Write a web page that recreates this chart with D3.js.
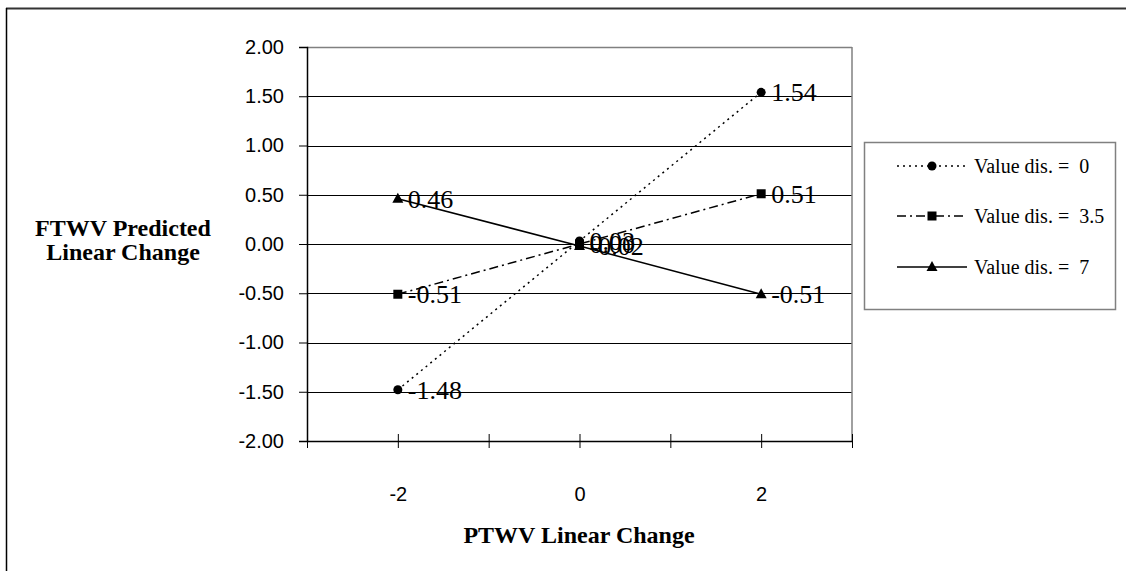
<!DOCTYPE html>
<html>
<head>
<meta charset="utf-8">
<script src="https://cdn.jsdelivr.net/npm/d3@7"></script>
<style>
  html, body { margin: 0; padding: 0; background: #fff; }
  svg { display: block; }
</style>
</head>
<body>
<svg id="chart" width="1126" height="571"></svg>
<script>
// PTWV linear change levels (x) and predicted FTWV change per value-discrepancy group
const xValues = [-2, 0, 2];
const seriesNames = ["Value dis. = 0", "Value dis. = 3.5", "Value dis. = 7"];
const valuesDis0 = [-1.48, 0.03, 1.54];
const valuesDis35 = [-0.51, 0.00, 0.51];
const valuesDis7 = [0.46, -0.02, -0.51];
const yTickValues = [-2, -1.5, -1, -0.5, 0, 0.5, 1, 1.5, 2];
const xTickValues = [-3, -2, -1, 0, 1, 2, 3];
const xTickLabels = ["", "-2", "", "0", "", "2", ""];

const series = [
  { name: seriesNames[0], values: valuesDis0, dash: "2,4", marker: "circle" },
  { name: seriesNames[1], values: valuesDis35, dash: "9,4,2,4", marker: "square" },
  { name: seriesNames[2], values: valuesDis7, dash: null, marker: "triangle" }
];

// two decimals with a plain hyphen for negatives
const fmt2 = v => (v < 0 ? "-" : "") + Math.abs(v).toFixed(2);

const svg = d3.select("#chart");
const plot = { left: 307, right: 852, top: 47, bottom: 441 };

const x = d3.scaleLinear().domain([-3, 3]).range([plot.left, plot.right]);
const y = d3.scaleLinear().domain([-2, 2]).range([plot.bottom, plot.top]);

// outer chart frame (top and left edges visible)
svg.append("line").attr("x1", 6).attr("x2", 1126).attr("y1", 8.5).attr("y2", 8.5)
  .attr("stroke", "#333").attr("stroke-width", 2);
svg.append("line").attr("x1", 6.5).attr("x2", 6.5).attr("y1", 8).attr("y2", 571)
  .attr("stroke", "#000").attr("stroke-width", 1.5);

// horizontal gridlines
svg.append("g").selectAll("line")
  .data(yTickValues.filter(v => v > -2 && v < 2))
  .join("line")
  .attr("x1", plot.left).attr("x2", plot.right)
  .attr("y1", d => Math.round(y(d)) + 0.5).attr("y2", d => Math.round(y(d)) + 0.5)
  .attr("stroke", "#000").attr("stroke-width", 1);

// plot area frame (top and right)
svg.append("line").attr("x1", plot.left).attr("x2", plot.right)
  .attr("y1", plot.top + 0.5).attr("y2", plot.top + 0.5)
  .attr("stroke", "#808080").attr("stroke-width", 1.5);
svg.append("line").attr("x1", plot.right).attr("x2", plot.right)
  .attr("y1", plot.top).attr("y2", plot.bottom)
  .attr("stroke", "#808080").attr("stroke-width", 1.5);

// y axis
const yAxis = d3.axisLeft(y).tickValues(yTickValues).tickFormat(fmt2)
  .tickSize(8).tickPadding(15);
const gy = svg.append("g").attr("transform", `translate(${plot.left},0)`).call(yAxis);
gy.select(".domain").attr("stroke", "#000").attr("stroke-width", 1.5);
gy.selectAll(".tick line").attr("stroke", "#000");
gy.selectAll(".tick text")
  .attr("font-family", "'Liberation Sans', Arial, sans-serif")
  .attr("font-size", 20).attr("fill", "#000");

// x axis (ticks cross the axis line)
const xAxis = d3.axisBottom(x).tickValues(xTickValues)
  .tickFormat((d, i) => xTickLabels[i]).tickSize(0).tickPadding(46);
const gx = svg.append("g").attr("transform", `translate(0,${plot.bottom})`).call(xAxis);
gx.select(".domain").attr("stroke", "#000").attr("stroke-width", 1.5);
gx.selectAll(".tick").append("line")
  .attr("y1", -7).attr("y2", 7).attr("stroke", "#000").attr("stroke-width", 1);
gx.selectAll(".tick text")
  .attr("font-family", "'Liberation Sans', Arial, sans-serif")
  .attr("font-size", 20).attr("fill", "#000");

// axis titles
const titleFont = "'Liberation Serif', 'Times New Roman', serif";
const yTitle = svg.append("text")
  .attr("x", 123).attr("text-anchor", "middle")
  .attr("font-family", titleFont).attr("font-size", 24).attr("font-weight", "bold");
yTitle.append("tspan").attr("x", 123).attr("y", 236).text("FTWV Predicted");
yTitle.append("tspan").attr("x", 123).attr("y", 260).text("Linear Change");
svg.append("text")
  .attr("x", 579).attr("y", 543).attr("text-anchor", "middle")
  .attr("font-family", titleFont).attr("font-size", 24).attr("font-weight", "bold")
  .text("PTWV Linear Change");

// marker drawing
function drawMarker(g, type, cx, cy) {
  if (type === "circle") {
    g.append("circle").attr("cx", cx).attr("cy", cy).attr("r", 4.5).attr("fill", "#000");
  } else if (type === "square") {
    g.append("rect").attr("x", cx - 4.5).attr("y", cy - 4.5)
      .attr("width", 9).attr("height", 9).attr("fill", "#000");
  } else {
    g.append("path")
      .attr("d", `M${cx},${cy - 6}L${cx + 5.5},${cy + 4}L${cx - 5.5},${cy + 4}Z`)
      .attr("fill", "#000");
  }
}

const line = d3.line().x(d => x(d[0])).y(d => y(d[1]));

series.forEach(s => {
  const pts = xValues.map((xv, i) => [xv, s.values[i]]);
  const g = svg.append("g");
  g.append("path").attr("d", line(pts)).attr("fill", "none")
    .attr("stroke", "#000").attr("stroke-width", 1.5)
    .attr("stroke-dasharray", s.dash);
  pts.forEach(p => drawMarker(g, s.marker, x(p[0]), y(p[1])));
});

// data labels to the right of each point
series.forEach(s => {
  svg.append("g").selectAll("text")
    .data(xValues.map((xv, i) => [xv, s.values[i]]))
    .join("text")
    .attr("x", d => x(d[0]) + 10)
    .attr("y", d => y(d[1]) + 9)
    .attr("font-family", titleFont).attr("font-size", 26).attr("fill", "#000")
    .text(d => fmt2(d[1]));
});

// legend
const legend = svg.append("g");
legend.append("rect").attr("x", 864.5).attr("y", 142.5).attr("width", 251).attr("height", 167)
  .attr("fill", "#fff").attr("stroke", "#808080").attr("stroke-width", 1.5);
const legendY = [166, 216, 267];
series.forEach((s, i) => {
  const ly = legendY[i];
  legend.append("line").attr("x1", 897).attr("x2", 967).attr("y1", ly).attr("y2", ly)
    .attr("stroke", "#000").attr("stroke-width", 1.5).attr("stroke-dasharray", s.dash);
  drawMarker(legend, s.marker, 932, ly);
  legend.append("text").attr("x", 974).attr("y", ly + 7)
    .attr("font-family", titleFont).attr("font-size", 20).attr("fill", "#000")
    .attr("xml:space", "preserve")
    .text(s.name.replace("= ", "=  "));
});
</script>
</body>
</html>
